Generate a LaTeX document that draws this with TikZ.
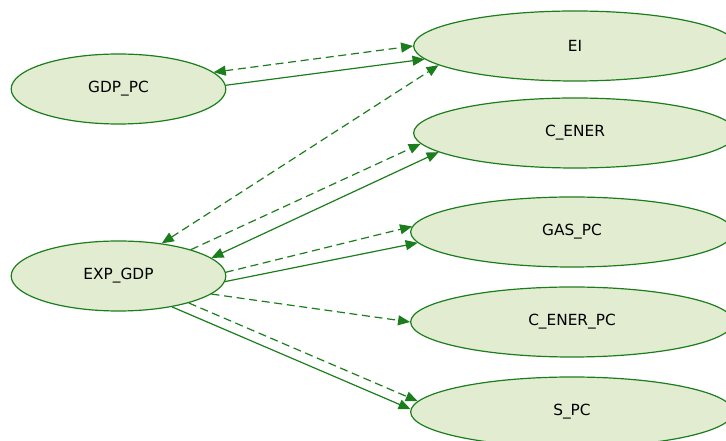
\documentclass[tikz,border=0pt]{standalone}
\usepackage{xcolor}
\usepackage{fontspec}
\setmainfont{DejaVu Sans}
\usepackage{tikz}
\usetikzlibrary{shapes, arrows.meta, positioning}
\definecolor{pathgreen}{RGB}{27,125,27}
\definecolor{pastelgreen}{RGB}{225,236,209}

\begin{document}
\begin{tikzpicture}[x=0.75pt, y=-0.75pt,
	>={Triangle[length=9pt, width=7.5pt]},
	every node/.style={font=\fontsize{11.5}{13}\selectfont},
	latent/.style={ellipse, draw=pathgreen, fill=pastelgreen, line width=0.9pt, inner sep=0pt, minimum height=52.5pt},
	leftvar/.style={latent, minimum width=161pt},
	rightvar/.style={latent, minimum width=242pt},
	solidline/.style={draw=pathgreen, line width=0.9pt},
	dashline/.style={solidline, dash pattern=on 6pt off 3.5pt}]
	\useasboundingbox (0,0) rectangle (726,441);
	\clip (0,0) rectangle (726,441);

	%% exogenous
	\node[leftvar] (gdppc) at (118.5,89) {GDP\_PC};
	\node[leftvar] (expgdp) at (118.5,276) {EXP\_GDP};

	%% endogenous
	\node[rightvar] (ei) at (575,46) {EI};
	\node[rightvar] (cener) at (575,133) {C\_ENER};
	\node[rightvar] (gaspc) at (572,232) {GAS\_PC};
	\node[rightvar] (cenerpc) at (572,322) {C\_ENER\_PC};
	\node[rightvar] (spc) at (572,412) {S\_PC};

	%% GDP_PC
	\draw[dashline, <->] (gdppc.10) -- (ei.west);
	\draw[solidline, ->] (gdppc.2) -- (ei.185);

	%% EXP_GDP
	\draw[dashline, <->] (expgdp.37) -- (ei.188);
	\draw[dashline, ->] (expgdp.20) -- (cener.184);
	\draw[solidline, <->] (expgdp.11) -- (cener.188);
	\draw[dashline, ->] (expgdp.2) -- (gaspc.178);
	\draw[solidline, ->] (expgdp.357) -- (gaspc.184);
	\draw[dashline, ->] (expgdp.349) -- (cenerpc.west);
	\draw[dashline, ->] (expgdp.339) -- (spc.176);
	\draw[solidline, ->] (expgdp.330) -- (spc.179);
\end{tikzpicture}
\end{document}
